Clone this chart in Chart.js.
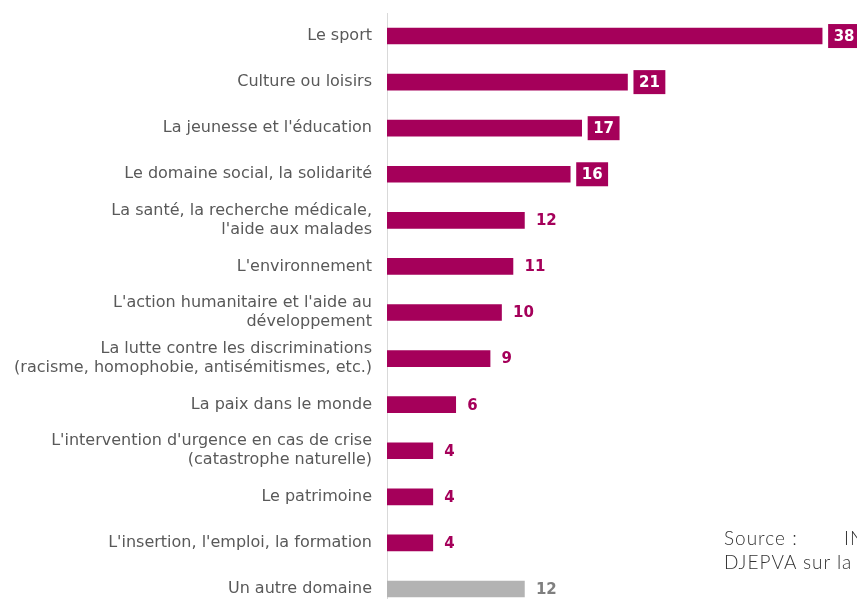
<!DOCTYPE html>
<html>
<head>
<meta charset="utf-8">
<script src="https://cdn.jsdelivr.net/npm/chart.js@4/dist/chart.umd.min.js"></script>
<style>
  html, body { margin: 0; padding: 0; background: #fff; overflow: hidden; width: 857px; height: 599px; }
  #wrap { position: absolute; left: 0; top: 0; width: 900px; height: 612px; }
  .src { position: absolute; font-family: Lato, "Open Sans", sans-serif; font-size: 19px; letter-spacing: 1px; color: #333; white-space: nowrap; font-weight: 300; }
</style>
</head>
<body>
<div id="wrap"><canvas id="chart" width="900" height="612"></canvas></div>
<div class="src" style="left:724px; top:526px;">Source :</div>
<div class="src" style="left:844px; top:526px;">INJEP</div>
<div class="src" style="left:724px; top:550px;">DJEPVA sur la base</div>
<script>
const categories = [
  'Le sport',
  'Culture ou loisirs',
  "La jeunesse et l'éducation",
  'Le domaine social, la solidarité',
  ['La santé, la recherche médicale,', "l'aide aux malades"],
  "L'environnement",
  ["L'action humanitaire et l'aide au", 'développement'],
  ['La lutte contre les discriminations', '(racisme, homophobie, antisémitismes, etc.)'],
  'La paix dans le monde',
  ["L'intervention d'urgence en cas de crise", '(catastrophe naturelle)'],
  'Le patrimoine',
  "L'insertion, l'emploi, la formation",
  'Un autre domaine'
];
const values = [38, 21, 17, 16, 12, 11, 10, 9, 6, 4, 4, 4, 12];
const boxed = [true, true, true, true, false, false, false, false, false, false, false, false, false];

const MAGENTA = '#a5005a';
const GREY = '#b3b3b3';
const barColors = values.map((v, i) => i === values.length - 1 ? GREY : MAGENTA);

// value labels drawn after the bars (boxed for the top four)
const valueLabels = {
  id: 'valueLabels',
  afterDatasetsDraw(chart) {
    const ctx = chart.ctx;
    const meta = chart.getDatasetMeta(0);
    ctx.save();
    ctx.font = 'bold 15px "DejaVu Sans", Verdana, sans-serif';
    ctx.textBaseline = 'middle';
    meta.data.forEach((bar, i) => {
      const txt = String(values[i]);
      const w = ctx.measureText(txt).width;
      const x0 = bar.x + 6;
      const y = bar.y;
      if (boxed[i]) {
        ctx.fillStyle = MAGENTA;
        ctx.fillRect(x0, y - 12, w + 11, 24);
        ctx.fillStyle = '#fff';
      } else {
        ctx.fillStyle = i === values.length - 1 ? '#7f7f7f' : MAGENTA;
      }
      ctx.fillText(txt, x0 + 5.5, y + 1);
    });
    ctx.restore();
  }
};

new Chart(document.getElementById('chart'), {
  type: 'bar',
  data: {
    labels: categories,
    datasets: [{
      data: values,
      backgroundColor: barColors,
      barThickness: 16
    }]
  },
  options: {
    indexAxis: 'y',
    responsive: false,
    animation: false,
    layout: { padding: { top: 13, bottom: 0, left: 0, right: 0 } },
    plugins: {
      legend: { display: false },
      tooltip: { enabled: false }
    },
    scales: {
      x: {
        display: false,
        min: 0,
        max: 44.8
      },
      y: {
        grid: { display: false, drawTicks: false },
        border: { display: true, color: '#d9d9d9', width: 1 },
        ticks: {
          color: '#595959',
          padding: 15,
          font: { family: '"DejaVu Sans", Verdana, sans-serif', size: 16, lineHeight: 1.2 }
        },
        afterFit(scale) {
          scale.width = 387;
          scale.paddingTop = 0;
          scale.paddingBottom = 0;
        }
      }
    }
  },
  plugins: [valueLabels]
});
</script>
</body>
</html>
